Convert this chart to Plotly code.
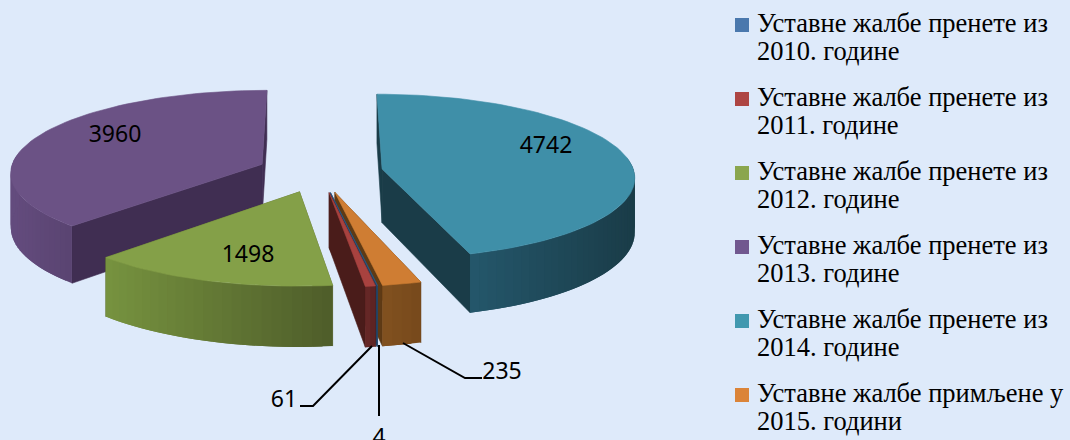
import math
import plotly.graph_objects as go

legend_first_lines = ["Уставне жалбе пренете из"] * 5 + ["Уставне жалбе примљене у"]
legend_second_lines = ["2010. године", "2011. године", "2012. године", "2013. године", "2014. године", "2015. години"]
values = [4, 61, 1498, 3960, 4742, 235]

legend_colors = ["#4a78ad", "#ad4543", "#8aa64e", "#71588f", "#4198af", "#db8438"]
top_colors = ["#2f5a85", "#a8423f", "#84a048", "#6b5285", "#3f8fa8", "#cf7d33"]
cut_colors = ["#24405f", "#4a1c1a", "#55652e", "#402e52", "#1a3c48", "#5e3a15"]
rim_light = ["#2f5a85", "#652726", "#76923f", "#644c7e", "#24566a", "#80501f"]
rim_dark = ["#24405f", "#5e2423", "#4f5e2a", "#5a4472", "#1a3c48", "#784a1c"]

# order in which the slices are painted, back to front
paint_order = [3, 4, 2, 5, 0, 1]
# clockwise from the top of the pie, the sequence starts at this slice
first_slice = 4
# labels: text centre and leader polyline
label_pos = {0: (379, 439), 1: (284, 401), 2: (248, 256), 3: (115, 136), 4: (546, 147), 5: (502, 373)}
leaders = {
    0: [(379, 345), (379, 416)],
    1: [(372, 346), (313, 406), (300, 406)],
    5: [(403, 343), (465, 378), (482, 378)],
}

CX, CY, RX, RY, TILT, EXPLODE, DEPTH = 320, 172, 252, 82, 0.09, 0.25, 54
BG = "#deeafa"
LEGEND_X, LEGEND_TEXT_X, LEGEND_Y, LEGEND_LINE, LEGEND_STEP = 742, 757, 25, 28, 74


def project(u, v, drop=0.0):
    p = 1 / (1 + TILT * v)
    return CX + RX * u * p, CY + (drop - RY * v) * p


def blend(a, b, t):
    ca = [int(a[i:i + 2], 16) for i in (1, 3, 5)]
    cb = [int(b[i:i + 2], 16) for i in (1, 3, 5)]
    return "#%02x%02x%02x" % tuple(round(x + (y - x) * t) for x, y in zip(ca, cb))


total = sum(values)
spans = {}
angle = 0.0
for k in range(len(values)):
    i = (first_slice + k) % len(values)
    sweep = 360 * values[i] / total
    spans[i] = (angle, angle + sweep)
    angle += sweep

fig = go.Figure()


def poly(points, color, width=0.6):
    fig.add_trace(go.Scatter(
        x=[p[0] for p in points] + [points[0][0]],
        y=[p[1] for p in points] + [points[0][1]],
        mode="lines", fill="toself", fillcolor=color,
        line=dict(color=color, width=width),
        showlegend=False, hoverinfo="skip"))


for i in paint_order:
    a0, a1 = spans[i]
    mid = math.radians((a0 + a1) / 2)
    ou, ov = EXPLODE * math.sin(mid), EXPLODE * math.cos(mid)
    steps = max(2, int((a1 - a0) / 2))
    ts = [math.radians(a0 + (a1 - a0) * j / steps) for j in range(steps + 1)]
    rim = [(ou + math.sin(t), ov + math.cos(t)) for t in ts]

    # the two cut faces
    for (u, v) in (rim[0], rim[-1]):
        poly([project(ou, ov), project(u, v), project(u, v, DEPTH), project(ou, ov, DEPTH)], cut_colors[i])

    # outer wall, shaded left to right; each piece overlaps the next so no seams show
    front = [j for j in range(steps) if math.cos(ts[j]) < 0.1 or math.cos(ts[j + 1]) < 0.1]
    if front:
        xs = [project(*rim[j])[0] for j in front]
        lo, hi = min(xs), max(xs)
        for j in front:
            x = project(*rim[j])[0]
            t = (x - lo) / (hi - lo) if hi > lo else 0
            e = min(j + 2, steps)
            poly([project(*rim[j]), project(*rim[e]), project(*rim[e], DEPTH), project(*rim[j], DEPTH)],
                 blend(rim_light[i], rim_dark[i], t), 0)

    # top face
    poly([project(ou, ov)] + [project(u, v) for u, v in rim], top_colors[i])

# leader lines
for pts in leaders.values():
    fig.add_trace(go.Scatter(x=[p[0] for p in pts], y=[p[1] for p in pts], mode="lines",
                             line=dict(color="#000000", width=2), showlegend=False, hoverinfo="skip"))

# value labels
fig.add_trace(go.Scatter(
    x=[label_pos[i][0] for i in range(len(values))],
    y=[label_pos[i][1] for i in range(len(values))],
    text=[str(v) for v in values], mode="text",
    textfont=dict(family="Noto Sans", size=23, color="#000000"),
    showlegend=False, hoverinfo="skip", cliponaxis=False))

# legend rows: a square and two lines of text for each series
for i in range(len(values)):
    y = LEGEND_Y + i * LEGEND_STEP
    fig.add_trace(go.Scatter(
        x=[LEGEND_X], y=[y], mode="markers",
        name=legend_first_lines[i] + " " + legend_second_lines[i],
        marker=dict(symbol="square", size=14, color=legend_colors[i]),
        showlegend=False, hoverinfo="skip"))
    fig.add_trace(go.Scatter(
        x=[LEGEND_TEXT_X, LEGEND_TEXT_X], y=[y, y + LEGEND_LINE],
        text=[legend_first_lines[i], legend_second_lines[i]],
        mode="text", textposition="middle right",
        textfont=dict(family="Liberation Serif", size=26.5, color="#000000"),
        showlegend=False, hoverinfo="skip", cliponaxis=False))

fig.update_layout(
    width=1070, height=440, margin=dict(l=0, r=0, t=0, b=0),
    paper_bgcolor=BG, plot_bgcolor=BG, showlegend=False,
    xaxis=dict(range=[0, 1070], visible=False, fixedrange=True),
    yaxis=dict(range=[440, 0], visible=False, fixedrange=True),
)

fig.write_html("out.html", config={"displayModeBar": False},
               post_script="document.body.style.margin='0';document.body.style.overflow='hidden';")
